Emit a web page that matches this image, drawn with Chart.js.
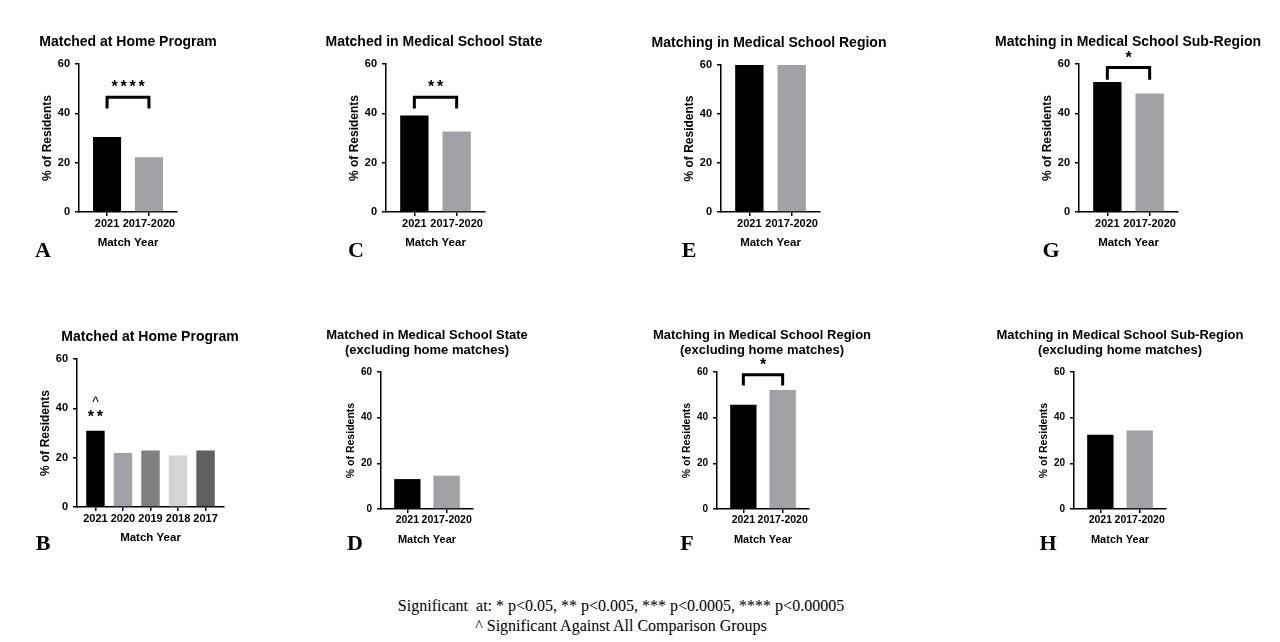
<!DOCTYPE html>
<html>
<head>
<meta charset="utf-8">
<script src="https://cdn.jsdelivr.net/npm/chart.js@4.4.1/dist/chart.umd.min.js"></script>
<style>
  body { margin: 0; background: #fff; width: 1280px; height: 642px; position: relative; overflow: hidden; font-family: "Liberation Sans", Arial, sans-serif; color: #000; }
  canvas { position: absolute; }
  .ttl { position: absolute; transform: translate(-50%, -50%); font-weight: bold; white-space: nowrap; text-align: center; line-height: 15px; }
  .ltr { position: absolute; transform: translate(-50%, -50%); font-family: "Liberation Serif", serif; font-weight: bold; font-size: 22px; }
  .foot { position: absolute; left: 0; width: 1242px; text-align: center; font-family: "Liberation Serif", serif; font-size: 16px; white-space: pre; }
</style>
</head>
<body>
<div class="foot" style="top:597px">Significant  at: * p&lt;0.05, ** p&lt;0.005, *** p&lt;0.0005, **** p&lt;0.00005</div>
<div class="foot" style="top:617px">^ Significant Against All Comparison Groups</div>
<script>
// ---- data ----
const pairLabels = ["2021", "2017-2020"];
const yearLabels = ["2021", "2020", "2019", "2018", "2017"];
const yTicks = [0, 20, 40, 60];

const homeProgram = [30.4, 22.2];
const medSchoolState = [39.1, 32.6];
const medSchoolRegion = [60, 60];
const medSchoolSubRegion = [52.7, 48.0];
const homeProgramByYear = [30.9, 21.9, 22.9, 20.9, 22.9];
const stateExclHome = [13.1, 14.6];
const regionExclHome = [45.7, 52.1];
const subRegionExclHome = [32.5, 34.4];

const pairColors = ["#000000", "#a1a1a6"];
const yearColors = ["#000000", "#a1a1a6", "#808080", "#d4d4d4", "#606060"];

// ---- layout of each panel ----
const panels = [
  { title: "Matched at Home Program", letter: "A", labels: pairLabels, values: homeProgram, colors: pairColors,
    axisX: 79, top: 64, bottom: 212, plotW: 98, tx: 128, ty: 41, lx: 43, ly: 250, fs: 14,
    sig: [{ from: 0, to: 1, top: 46.5, leg: 42, text: "****", textAt: 50.3 }] },
  { title: "Matched in Medical School State", letter: "C", labels: pairLabels, values: medSchoolState, colors: pairColors,
    axisX: 386, top: 64, bottom: 212, plotW: 99, tx: 434, ty: 41, lx: 356, ly: 250, fs: 14,
    sig: [{ from: 0, to: 1, top: 46.5, leg: 42, text: "**", textAt: 50.3 }] },
  { title: "Matching in Medical School Region", letter: "E", labels: pairLabels, values: medSchoolRegion, colors: pairColors,
    axisX: 721, top: 65, bottom: 212, plotW: 99, tx: 769, ty: 42, lx: 689, ly: 250, fs: 14, sig: [] },
  { title: "Matching in Medical School Sub-Region", letter: "G", labels: pairLabels, values: medSchoolSubRegion, colors: pairColors,
    axisX: 1079, top: 64, bottom: 212, plotW: 99, tx: 1128, ty: 41, lx: 1051, ly: 250, fs: 14,
    sig: [{ from: 0, to: 1, top: 58.6, leg: 53.6, text: "*", textAt: 62.1 }] },
  { title: "Matched at Home Program", letter: "B", labels: yearLabels, values: homeProgramByYear, colors: yearColors,
    axisX: 77, top: 359, bottom: 507, plotW: 147, tx: 150, ty: 336, lx: 43, ly: 543, fs: 14,
    sig: [{ at: 0, text: "^", textAt: 42.2, thin: true }, { at: 0, text: "**", textAt: 36.1 }] },
  { title: "Matched in Medical School State<br>(excluding home matches)", letter: "D", labels: pairLabels, values: stateExclHome, colors: pairColors,
    axisX: 381, top: 372, bottom: 509, plotW: 92, tx: 427, ty: 342, lx: 355, ly: 543, fs: 13, small: true, sig: [] },
  { title: "Matching in Medical School Region<br>(excluding home matches)", letter: "F", labels: pairLabels, values: regionExclHome, colors: pairColors,
    axisX: 717, top: 372, bottom: 509, plotW: 92, tx: 762, ty: 342, lx: 687, ly: 543, fs: 13, small: true,
    sig: [{ from: 0, to: 1, top: 58.8, leg: 54.1, text: "*", textAt: 62.9 }] },
  { title: "Matching in Medical School Sub-Region<br>(excluding home matches)", letter: "H", labels: pairLabels, values: subRegionExclHome, colors: pairColors,
    axisX: 1074, top: 372, bottom: 509, plotW: 92, tx: 1120, ty: 342, lx: 1048, ly: 543, fs: 13, small: true, sig: [] },
];

const Y_W = 45, PAD_T = 16, PAD_R = 6, X_H = 38, EDGE = 0.67;

function drawSpaced(ctx, text, cx, cy, step) {
  const n = text.length;
  for (let i = 0; i < n; i++) {
    ctx.fillText(text[i], cx + (i - (n - 1) / 2) * step, cy);
  }
}

function sigPlugin(marks) {
  return {
    id: "sig",
    afterDatasetsDraw(chart) {
      const { ctx, scales: { x, y } } = chart;
      ctx.save();
      ctx.fillStyle = "#000";
      ctx.strokeStyle = "#000";
      ctx.textAlign = "center";
      ctx.textBaseline = "middle";
      marks.forEach((m) => {
        let cx;
        if (m.to !== undefined) {
          const x0 = x.getPixelForValue(m.from), x1 = x.getPixelForValue(m.to);
          const yt = y.getPixelForValue(m.top), yl = y.getPixelForValue(m.leg);
          ctx.lineWidth = 3;
          ctx.lineJoin = "miter";
          ctx.beginPath();
          ctx.moveTo(x0, yl);
          ctx.lineTo(x0, yt);
          ctx.lineTo(x1, yt);
          ctx.lineTo(x1, yl);
          ctx.stroke();
          cx = (x0 + x1) / 2;
        } else {
          cx = x.getPixelForValue(m.at);
        }
        ctx.font = m.thin ? '14px "Liberation Sans"' : 'bold 16px "Liberation Sans"';
        drawSpaced(ctx, m.text, cx, y.getPixelForValue(m.textAt), 9);
      });
      ctx.restore();
    },
  };
}

panels.forEach((p, k) => {
  const plotH = p.bottom - p.top;
  const cv = document.createElement("canvas");
  cv.id = "chart" + k;
  cv.width = Y_W + p.plotW + PAD_R;
  cv.height = PAD_T + plotH + X_H;
  cv.style.left = (p.axisX - Y_W) + "px";
  cv.style.top = (p.top - PAD_T) + "px";
  cv.style.width = cv.width + "px";
  cv.style.height = cv.height + "px";
  document.body.appendChild(cv);

  const t = document.createElement("div");
  t.className = "ttl";
  t.style.left = p.tx + "px";
  t.style.top = p.ty + "px";
  t.style.fontSize = p.fs + "px";
  t.innerHTML = p.title;
  document.body.appendChild(t);

  const l = document.createElement("div");
  l.className = "ltr";
  l.style.left = p.lx + "px";
  l.style.top = p.ly + "px";
  l.textContent = p.letter;
  document.body.appendChild(l);

  const tickFont = { family: "'Liberation Sans'", weight: "bold", size: p.small ? 10 : 11 };
  const xTickFont = { family: "'Liberation Sans'", weight: "bold", size: p.small ? 10.5 : 11 };
  const yTitleSize = p.small ? 10.5 : 12;

  new Chart(cv, {
    type: "bar",
    data: {
      datasets: [{
        data: p.values.map((v, i) => ({ x: i, y: v })),
        backgroundColor: p.colors,
        borderWidth: 0,
        barPercentage: 1,
        categoryPercentage: EDGE,
      }],
    },
    options: {
      responsive: false,
      animation: false,
      events: [],
      layout: { autoPadding: false, padding: { top: PAD_T, right: PAD_R, left: 0, bottom: 0 } },
      plugins: { legend: { display: false }, tooltip: { enabled: false } },
      scales: {
        x: {
          type: "linear",
          offset: false,
          min: -EDGE,
          max: p.labels.length - 1 + EDGE,
          afterBuildTicks: (s) => { s.ticks = p.labels.map((_, i) => ({ value: i })); },
          afterFit: (s) => { s.height = X_H; },
          ticks: { color: "#000", font: xTickFont, padding: 1, maxRotation: 0, autoSkip: false,
                   callback: (v) => p.labels[v] },
          grid: { offset: false, drawOnChartArea: false, drawTicks: true, tickLength: 4, color: "#000", lineWidth: 1.5 },
          border: { color: "#000", width: 1.5 },
          title: { display: true, text: "Match Year", color: "#000",
                   font: { family: "'Liberation Sans'", weight: "bold", size: p.small ? 11 : 11.5 },
                   padding: { top: 0, bottom: 0 } },
        },
        y: {
          min: 0,
          max: 60,
          afterBuildTicks: (s) => { s.ticks = yTicks.map((v) => ({ value: v })); },
          afterFit: (s) => { s.width = Y_W; },
          ticks: { color: "#000", font: tickFont, padding: 5 },
          grid: { drawOnChartArea: false, drawTicks: true, tickLength: 4, color: "#000", lineWidth: 1.5 },
          border: { color: "#000", width: 1.5 },
          title: { display: true, text: "% of Residents", color: "#000",
                   font: { family: "'Liberation Sans'", weight: "bold", size: yTitleSize },
                   padding: { top: p.small ? 8.5 : 6, bottom: 0 } },
        },
      },
    },
    plugins: [sigPlugin(p.sig)],
  });
});
</script>
</body>
</html>
